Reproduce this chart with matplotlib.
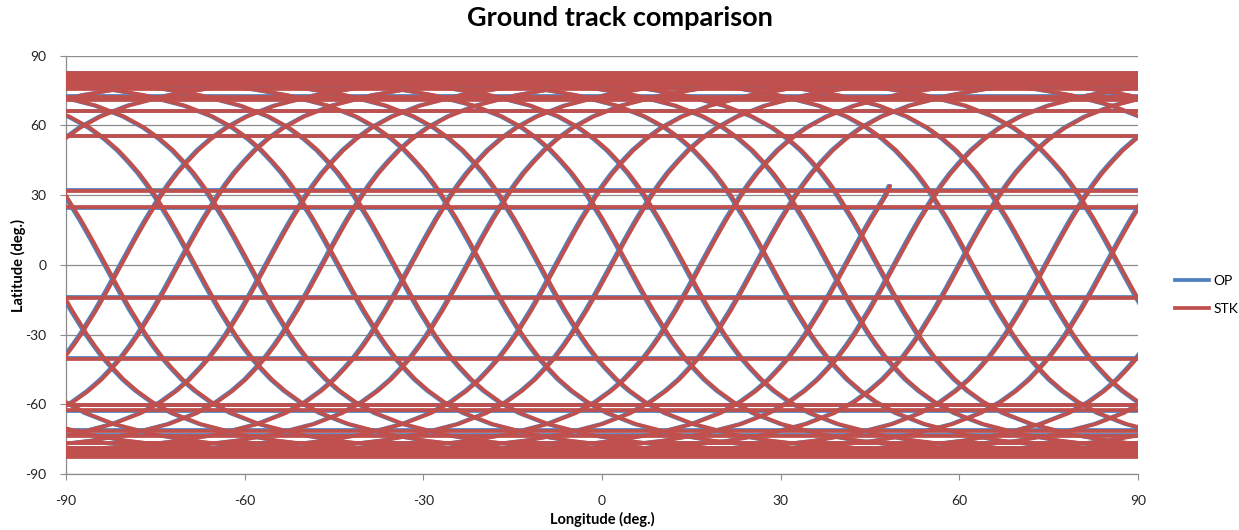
import numpy as np
import matplotlib
matplotlib.use("Agg")
import matplotlib.pyplot as plt
from matplotlib.lines import Line2D

# one northbound half-pass, read off a clean arc: lon offset from the
# equator crossing (deg) and latitude (deg); the upper half of the pass
half_off = [0.0, 1.05, 2.1, 3.17, 4.29, 5.48, 6.68, 8.0, 9.43, 11.1, 12.9,
            15.1, 17.7, 21.1, 25.8, 32.6, 38.6, 43.8, 50.4, 58.7, 69.0, 82.3,
            96.3]
half_lat = [0.0, 4.95, 9.9, 14.8, 19.8, 24.7, 29.7, 34.6, 39.5, 44.4, 49.3,
            54.2, 59.0, 63.8, 68.5, 73.0, 75.6, 77.2, 78.6, 79.9, 81.0, 81.7,
            82.0]

# equator crossings of the northbound ("/") and southbound ("\") passes
asc_nodes = [-178.3, -163.8, -154.0, -145.8, -129.9, -119.8, -105.3, -80.7,
             -71.1, -56.3, -46.9, -32.0, -22.5, -7.6, 1.7, 16.7, 25.9, 49.2,
             60.1, 74.6, 84.7, 99.5, 108.7, 123.6, 133.0, 147.7, 157.4, 172.2]
desc_nodes = [-175.4, -166.1, -151.1, -141.9, -118.6, -107.7, -93.2, -83.3,
              -68.3, -59.1, -44.2, -34.8, -20.1, -10.4, 4.4, 13.9, 28.4, 38.2,
              46.4, 62.3, 72.4, 86.9, 111.5, 121.1, 135.9, 145.3, 160.2, 169.7]

# last (unfinished) pass
last_node = 41.0
last_end = (48.4, 34.0)

# latitudes where the track jumps across the longitude seam
stk_wrap_lats = [82.4, 81.8, 81.2, 80.6, 79.6, 78.3, 77.4, 75.6, 72.3, 71.0,
                 66.0, 55.5, 31.6, 25.1, -14.4, -40.3, -60.5, -62.6, -71.3,
                 -73.6, -76.8, -79.0, -80.2, -81.0, -81.8, -82.6]
op_wrap_lats = [82.6, 81.9, 81.3, 80.8, 79.8, 78.5, 77.6, 75.9, 72.6, 71.2,
                66.3, 55.3, 32.3, 24.6, -13.8, -39.9, -60.1, -62.9, -71.0,
                -73.3, -76.5, -78.8, -80.0, -80.8, -81.6, -82.4]
seam_lons = [-180.0, 180.0]

# OP trace sits a little west of STK
op_lon_shift = -0.3

x_ticks = [-90, -60, -30, 0, 30, 60, 90]
y_ticks = [-90, -60, -30, 0, 30, 60, 90]

BLUE = "#4F81BD"
RED = "#C0504D"
GRID = "#8C8C8C"

plt.rcParams["font.family"] = ["Lato", "DejaVu Sans"]
plt.rcParams["axes.unicode_minus"] = False

# full pass: southern half is the mirror of the northern half
off = np.array([-v for v in half_off[:0:-1]] + half_off)
lat = np.array([-v for v in half_lat[:0:-1]] + half_lat)


def draw_track(ax, color, lw, shift, wrap_lats):
    for nodes, sign in ((asc_nodes, 1), (desc_nodes, -1)):
        for n in nodes:
            for w in (-360, 0, 360):
                lon = n + w + shift + off
                if lon.max() < -95 or lon.min() > 95:
                    continue
                ax.plot(lon, sign * lat, color=color, lw=lw,
                        solid_joinstyle="round", zorder=3)
    keep = lat < last_end[1]
    lon = list(last_node + shift + off[keep]) + [last_end[0] + shift]
    la = list(lat[keep]) + [last_end[1]]
    ax.plot(lon, la, color=color, lw=lw, solid_capstyle="round", zorder=3)
    for wl in wrap_lats:
        ax.plot(seam_lons, [wl, wl], color=color, lw=lw, zorder=3)


fig = plt.figure(figsize=(12.39, 5.30), dpi=100)
ax = fig.add_axes([66 / 1239, 1 - 474 / 530, 1072 / 1239, 418.3 / 530])

draw_track(ax, BLUE, 2.7, op_lon_shift, op_wrap_lats)
draw_track(ax, RED, 2.7, 0.0, stk_wrap_lats)

ax.set_xlim(-90, 90)
ax.set_ylim(-90, 90)
ax.set_xticks(x_ticks)
ax.set_yticks(y_ticks)
ax.yaxis.grid(True, color=GRID, lw=0.9, zorder=1)
ax.set_axisbelow(True)
for s in ("top", "right"):
    ax.spines[s].set_visible(False)
for s in ("left", "bottom"):
    ax.spines[s].set_color(GRID)
    ax.spines[s].set_linewidth(0.9)
ax.tick_params(axis="both", direction="out", length=4, color=GRID,
               labelsize=10, labelcolor="#222222")
ax.tick_params(axis="x", pad=11)
ax.tick_params(axis="y", pad=10)

fig.text(0.5, 1 - 18 / 530, "Ground track comparison", ha="center",
         va="center", fontsize=19.5, fontweight="bold")
fig.text(18 / 1239, 1 - 265 / 530, "Latitude (deg.)", ha="center",
         va="center", rotation=90, fontsize=10.5, fontweight="bold")
fig.text(602 / 1239, 1 - 519 / 530, "Longitude (deg.)", ha="center",
         va="center", fontsize=10.5, fontweight="bold")

handles = [Line2D([0], [0], color=BLUE, lw=2.7),
           Line2D([0], [0], color=RED, lw=2.7)]
fig.legend(handles, ["OP", "STK"], loc="center left",
           bbox_to_anchor=(1162 / 1239, 1 - 295 / 530), frameon=False,
           fontsize=10, handlelength=2.5, labelspacing=1.2,
           handletextpad=0.3)

fig.savefig("out.png", dpi=100)
